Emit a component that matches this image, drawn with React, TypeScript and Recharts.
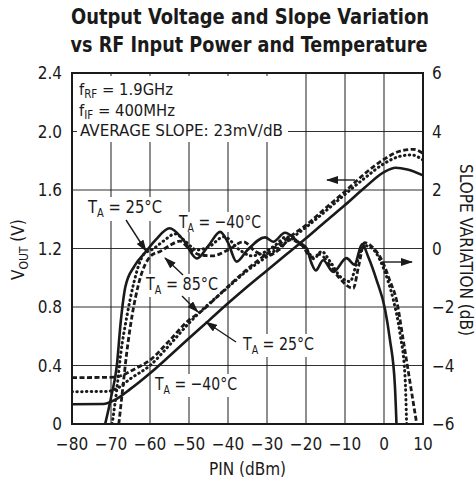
import { LineChart, Line, XAxis, YAxis, CartesianGrid } from 'recharts';

const pinTicks = [-80, -70, -60, -50, -40, -30, -20, -10, 0, 10];
const voutTicks = [0, 0.4, 0.8, 1.2, 1.6, 2.0, 2.4];
const slopeTicks = [-6, -4, -2, 0, 2, 4, 6];

// VOUT (V) vs PIN (dBm), one list per temperature
const voutCold = [[-80, 0.135], [-72, 0.137], [-69, 0.165], [-65, 0.24], [-60, 0.347], [-55, 0.465], [-50, 0.586], [-45, 0.705], [-40, 0.825], [-35, 0.94], [-30, 1.05], [-25, 1.16], [-20, 1.27], [-15, 1.385], [-10, 1.497], [-5, 1.615], [0, 1.722], [3, 1.752], [6, 1.74], [10, 1.7]];
const voutRoom = [[-80, 0.221], [-71, 0.223], [-68, 0.25], [-65, 0.31], [-60, 0.4], [-55, 0.54], [-50, 0.69], [-47.5, 0.757], [-40, 0.935], [-35, 1.05], [-30, 1.145], [-25, 1.245], [-20, 1.345], [-15, 1.455], [-10, 1.57], [-5, 1.68], [0, 1.78], [4, 1.83], [7, 1.84], [10, 1.805]];
const voutHot = [[-80, 0.317], [-69, 0.32], [-67, 0.335], [-64, 0.375], [-60, 0.437], [-55, 0.57], [-50, 0.711], [-47.5, 0.757], [-40, 0.94], [-35, 1.06], [-30, 1.165], [-25, 1.265], [-20, 1.36], [-15, 1.475], [-10, 1.59], [-5, 1.71], [0, 1.81], [4, 1.865], [7.5, 1.878], [10, 1.85]];

// slope variation (dB) vs PIN (dBm)
const slopeCold = [[-71.5, -6], [-70, -5.1], [-68.5, -4], [-67.5, -2.5], [-66.3, -1.3], [-64, -0.6], [-61, -0.1], [-58.5, 0.3], [-55, 0.69], [-51.5, 0.3], [-48, -0.34], [-45, 0.1], [-42, 0.57], [-40, 0.2], [-37.8, -0.45], [-35, -0.05], [-30.5, 0.38], [-28.4, 0.23], [-25.4, 0.54], [-22, 0.23], [-19.8, 0], [-18.6, -0.5], [-17.5, -0.75], [-15.6, -0.4], [-13, -0.8], [-9.6, -0.33], [-7.6, -0.55], [-5.6, 0.15], [-4, -0.3], [-1.9, -1.08], [0.3, -2.1], [1.5, -3.1], [2.8, -4.7], [3.2, -6]];
const slopeRoom = [[-69.7, -6], [-68.5, -4.8], [-67.5, -3.6], [-65.9, -2.3], [-64.2, -1.2], [-61.6, -0.2], [-59, 0], [-56.6, 0.25], [-53.5, 0.5], [-51, 0.25], [-48, -0.05], [-45, 0.05], [-41, 0.4], [-37, -0.05], [-34, -0.25], [-31, -0.15], [-28, 0.1], [-25, 0.4], [-22, 0.2], [-19.5, -0.1], [-18, -0.35], [-16, -0.1], [-13.8, -0.45], [-11.3, -0.95], [-8.7, -1.13], [-7, -0.5], [-5, 0.1], [-3, 0], [-1, -0.4], [1, -1.1], [2.4, -1.76], [4.1, -2.9], [5.4, -4.4], [5.8, -6]];
const slopeHot = [[-68, -6], [-67, -4.8], [-66, -3.6], [-64.6, -2.3], [-62.9, -1.2], [-59.5, -0.22], [-57.4, -0.1], [-55, 0.1], [-52.3, 0.25], [-50, 0], [-47.2, -0.22], [-44, -0.25], [-40, -0.05], [-36, 0.23], [-33, -0.1], [-30, -0.25], [-27, -0.05], [-24, 0.3], [-21, 0.1], [-18.6, -0.3], [-16.5, -0.2], [-14, -0.55], [-11.5, -1.0], [-7.9, -1.36], [-6.5, -0.6], [-5, 0.2], [-3, 0.05], [-0.2, -0.5], [1.5, -1.1], [3.2, -1.76], [4.9, -3.1], [6.7, -4.6], [8.4, -6]];

const FONT = '"Liberation Sans Narrow", "DejaVu Sans Condensed", "Arial Narrow", sans-serif';
const INK = '#1a1a1a';

const pts = (arr: number[][]) => arr.map(([x, y]) => ({ x, y }));
const minus = (v: number) => (v < 0 ? '\u2212' + Math.abs(v) : String(v));
const tickStyle = { fontSize: 17, fill: INK, fontFamily: FONT };

// white boxes behind the annotations (hide the grid there)
const boxes = [
  [77, 76, 211, 66],
  [86, 197, 78, 24],
  [177, 212, 86, 20],
  [144, 274, 76, 23],
  [240, 334, 76, 23],
  [153, 374, 87, 23],
];

const solid = { stroke: INK, strokeWidth: 2.6 };
const dotted = { stroke: INK, strokeWidth: 3, strokeDasharray: '0.5 4.3', strokeLinecap: 'round' as const };
const dashed = { stroke: INK, strokeWidth: 2.8, strokeDasharray: '5 2.5' };

function TA({ x, y, t, w }: { x: number; y: number; t: string; w: number }) {
  return (
    <text x={x} y={y} fontSize={18} fontFamily={FONT} fill={INK} textLength={w} lengthAdjust="spacingAndGlyphs">
      T<tspan fontSize={12} dy={4}>A</tspan>
      <tspan dy={-4}>{' = ' + t}</tspan>
    </text>
  );
}

export default function App() {
  return (
    <div style={{ position: 'absolute', left: 0, top: 0, width: 475, height: 483, background: '#fff' }}>
      <LineChart width={475} height={483} margin={{ top: 73, right: 0, bottom: 0, left: 0 }}>
        <CartesianGrid yAxisId="left" stroke={INK} strokeWidth={1.1} strokeOpacity={0.9} />
        <g>
          {boxes.map(([x, y, w, h], i) => (
            <rect key={i} x={x} y={y} width={w} height={h} fill="#fff" />
          ))}
        </g>
        <XAxis
          type="number"
          dataKey="x"
          domain={[-80, 10]}
          ticks={pinTicks}
          tickFormatter={minus}
          allowDataOverflow
          axisLine={false}
          tickLine={false}
          tickSize={0}
          tickMargin={14}
          height={59}
          tick={tickStyle}
        />
        <YAxis
          yAxisId="left"
          domain={[0, 2.4]}
          ticks={voutTicks}
          tickFormatter={(v: number) => (v === 0 ? '0' : v.toFixed(1))}
          allowDataOverflow
          axisLine={false}
          tickLine={false}
          tickSize={0}
          tickMargin={10}
          width={72}
          tick={tickStyle}
        />
        <YAxis
          yAxisId="right"
          orientation="right"
          domain={[-6, 6]}
          ticks={slopeTicks}
          tickFormatter={minus}
          allowDataOverflow
          axisLine={false}
          tickLine={false}
          tickSize={0}
          tickMargin={9}
          width={52}
          tick={tickStyle}
        />
        <Line yAxisId="left" data={pts(voutCold)} dataKey="y" type="monotone" dot={false} isAnimationActive={false} {...solid} />
        <Line yAxisId="left" data={pts(voutRoom)} dataKey="y" type="monotone" dot={false} isAnimationActive={false} {...dotted} />
        <Line yAxisId="left" data={pts(voutHot)} dataKey="y" type="monotone" dot={false} isAnimationActive={false} {...dashed} />
        <Line yAxisId="right" data={pts(slopeCold)} dataKey="y" type="monotone" dot={false} isAnimationActive={false} {...solid} />
        <Line yAxisId="right" data={pts(slopeRoom)} dataKey="y" type="monotone" dot={false} isAnimationActive={false} {...dotted} />
        <Line yAxisId="right" data={pts(slopeHot)} dataKey="y" type="monotone" dot={false} isAnimationActive={false} {...dashed} />
      </LineChart>

      <svg width={475} height={483} style={{ position: 'absolute', left: 0, top: 0, pointerEvents: 'none' }}>
        <defs>
          <marker id="ah" markerUnits="userSpaceOnUse" markerWidth={12} markerHeight={8} refX={11} refY={4} orient="auto">
            <path d="M0,0 L12,4 L0,8 Z" fill={INK} />
          </marker>
        </defs>
        <rect x={72} y={73} width={351} height={351} fill="none" stroke={INK} strokeWidth={2} />

        <g fontFamily={FONT} fontWeight="bold" fontSize={21} fill={INK} textAnchor="middle">
          <text x={250} y={24} textLength={358} lengthAdjust="spacingAndGlyphs">Output Voltage and Slope Variation</text>
          <text x={249} y={52} textLength={357} lengthAdjust="spacingAndGlyphs">vs RF Input Power and Temperature</text>
        </g>

        <g fontFamily={FONT} fontSize={16.5} fill={INK}>
          <text x={79} y={95} textLength={94} lengthAdjust="spacingAndGlyphs">f<tspan fontSize={11.5} dy={3}>RF</tspan><tspan dy={-3}> = 1.9GHz</tspan></text>
          <text x={79} y={116} textLength={96} lengthAdjust="spacingAndGlyphs">f<tspan fontSize={11.5} dy={3}>IF</tspan><tspan dy={-3}> = 400MHz</tspan></text>
          <text x={80} y={136} textLength={203} lengthAdjust="spacingAndGlyphs">AVERAGE SLOPE: 23mV/dB</text>
        </g>

        <TA x={88} y={213} t="25°C" w={74} />
        <TA x={179} y={228} t={'\u221240°C'} w={82} />
        <TA x={146} y={290} t="85°C" w={72} />
        <TA x={243} y={350} t="25°C" w={71} />
        <TA x={155} y={390} t={'\u221240°C'} w={82} />

        <g stroke={INK} strokeWidth={1.4} markerEnd="url(#ah)">
          <line x1={126} y1={220} x2={146} y2={251} />
          <line x1={183} y1={275} x2={165} y2={258} />
          <line x1={182} y1={296} x2={198} y2={312} />
          <line x1={236} y1={342} x2={206} y2={322} />
          <line x1={355} y1={180} x2={327} y2={180} />
          <line x1={382} y1={262} x2={412} y2={262} />
        </g>

        <text x={247.5} y={475} textAnchor="middle" fontFamily={FONT} fontSize={17} fill={INK}>PIN (dBm)</text>
        <text transform="translate(24,280) rotate(-90)" fontFamily={FONT} fontSize={17} fill={INK}>
          V<tspan fontSize={12} dy={4}>OUT</tspan><tspan dy={-4}> (V)</tspan>
        </text>
        <text transform="translate(460,250) rotate(90)" textAnchor="middle" fontFamily={FONT} fontSize={17} fill={INK}>
          SLOPE VARIATION (dB)
        </text>
      </svg>
    </div>
  );
}
